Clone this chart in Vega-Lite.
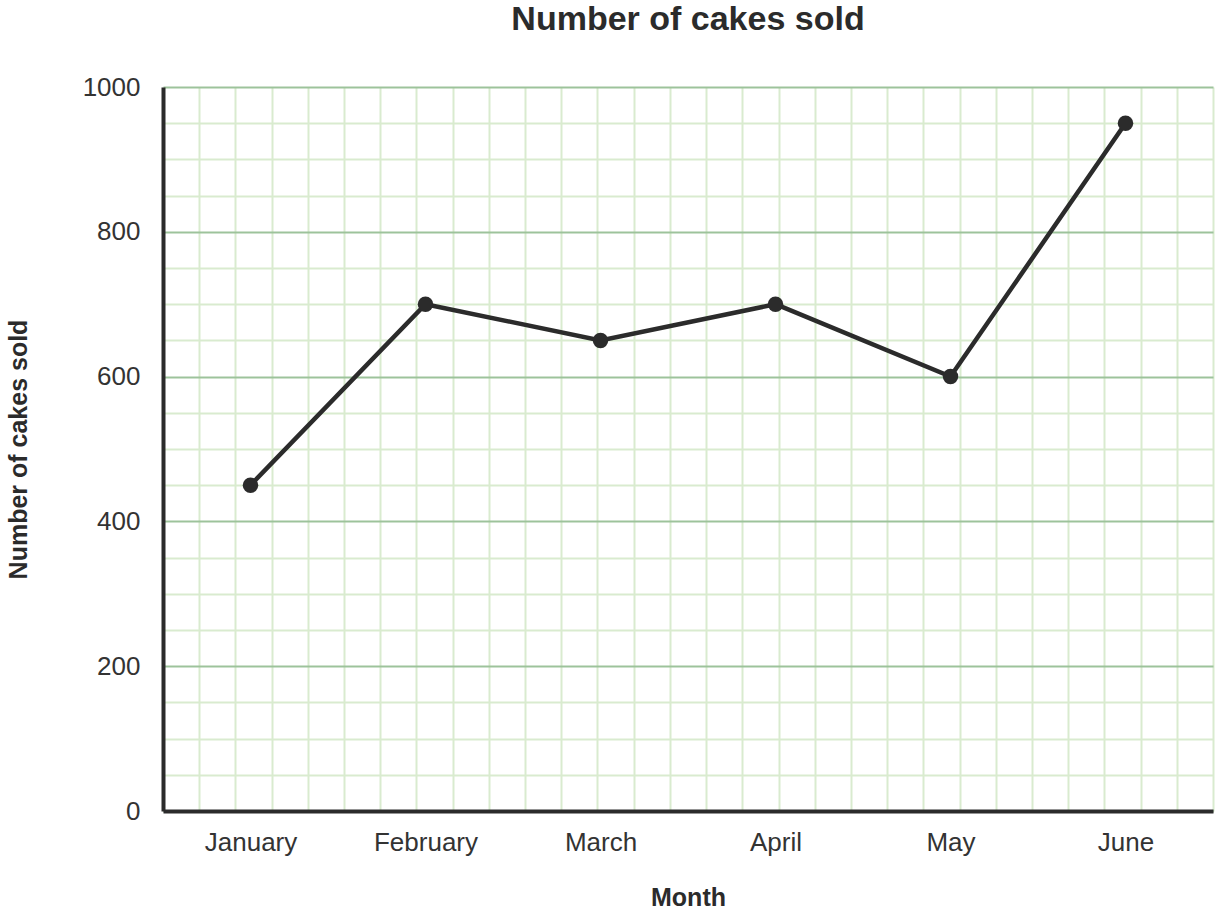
{
  "$schema": "https://vega.github.io/schema/vega-lite/v6.json",
  "width": 1050,
  "height": 724,
  "autosize": {"type": "none"},
  "padding": {"left": 163, "top": 87, "right": 7, "bottom": 102},
  "background": "white",
  "config": {
    "view": {"stroke": null},
    "font": "Liberation Sans",
    "axis": {"labelFont": "Liberation Sans", "titleFont": "Liberation Sans"}
  },
  "title": {
    "text": "Number of cakes sold",
    "font": "Liberation Sans",
    "fontSize": 34,
    "fontWeight": "bold",
    "color": "#2b2b2b",
    "anchor": "middle",
    "frame": "group",
    "baseline": "bottom",
    "offset": 3
  },
  "data": {
    "values": [
      {"Month": "January", "Cakes": 450},
      {"Month": "February", "Cakes": 700},
      {"Month": "March", "Cakes": 650},
      {"Month": "April", "Cakes": 700},
      {"Month": "May", "Cakes": 600},
      {"Month": "June", "Cakes": 950}
    ]
  },
  "layer": [
    {
      "mark": {"type": "rule", "opacity": 0},
      "encoding": {
        "x": {
          "datum": 0,
          "type": "quantitative",
          "scale": {"domain": [0, 29], "nice": false, "zero": false},
          "axis": {
            "orient": "top",
            "values": [1, 2, 3, 4, 5, 6, 7, 8, 9, 10, 11, 12, 13, 14, 15, 16, 17, 18, 19, 20, 21, 22, 23, 24, 25, 26, 27, 28, 29],
            "labels": false,
            "ticks": false,
            "domain": false,
            "title": null,
            "grid": true,
            "gridColor": "#d9ebcf",
            "gridWidth": 2,
            "zindex": 0
          }
        }
      }
    },
    {
      "mark": {
        "type": "line",
        "color": "#2b2b2b",
        "strokeWidth": 4.5,
        "point": {"filled": true, "color": "#2b2b2b", "size": 240, "opacity": 1}
      },
      "encoding": {
        "x": {
          "field": "Month",
          "type": "nominal",
          "sort": null,
          "scale": {"padding": 0.5},
          "axis": {
            "title": "Month",
            "titleFontSize": 25,
            "titleFontWeight": "bold",
            "titleColor": "#2b2b2b",
            "titleX": 525,
            "titleY": 94,
            "titleBaseline": "alphabetic",
            "labelFontSize": 26,
            "labelColor": "#333333",
            "labelAngle": 0,
            "labelPadding": 18,
            "ticks": false,
            "grid": false,
            "domain": true,
            "domainColor": "#2b2b2b",
            "domainWidth": 4,
            "zindex": 2
          }
        },
        "y": {
          "field": "Cakes",
          "type": "quantitative",
          "scale": {"domain": [0, 1000], "nice": false},
          "axis": {
            "title": "Number of cakes sold",
            "titleFontSize": 25,
            "titleFontWeight": "bold",
            "titleColor": "#2b2b2b",
            "titleX": -145,
            "titleY": 362,
            "titleAngle": -90,
            "titleAlign": "center",
            "titleBaseline": "middle",
            "values": [0, 50, 100, 150, 200, 250, 300, 350, 400, 450, 500, 550, 600, 650, 700, 750, 800, 850, 900, 950, 1000],
            "labelExpr": "datum.value % 200 === 0 ? datum.label : ''",
            "format": "d",
            "labelFontSize": 26,
            "labelColor": "#333333",
            "labelPadding": 23,
            "ticks": false,
            "grid": true,
            "gridWidth": 2,
            "gridColor": {"condition": {"test": "datum.value % 200 === 0", "value": "#9dc39b"}, "value": "#d9ebcf"},
            "domain": true,
            "domainColor": "#2b2b2b",
            "domainWidth": 4,
            "zindex": 0
          }
        }
      }
    }
  ],
  "resolve": {"scale": {"x": "independent"}, "axis": {"x": "independent"}}
}
